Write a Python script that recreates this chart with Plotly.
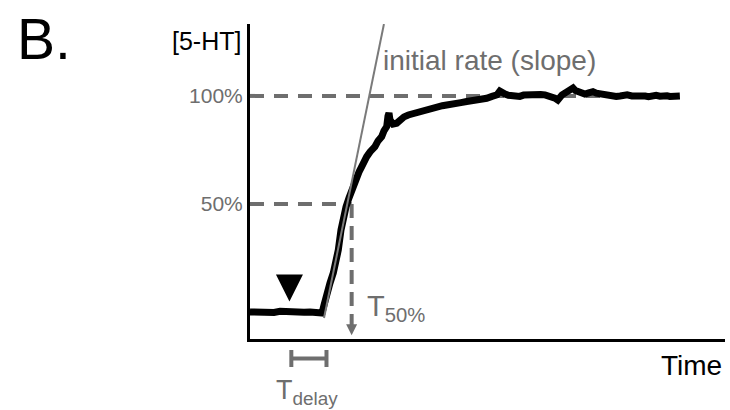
import plotly.graph_objects as go

# ---- data (time in s, signal in % of plateau) ----
time_s = [0, 1.26, 2.53, 3.79, 5.05, 6.32, 7.58, 8.84, 10.1, 11.37, 12.63, 13.9, 14.95, 15.16,
          15.58, 16.15, 16.84, 17.54, 18.1, 18.59, 19.16, 19.64, 20.21, 20.84, 21.41, 22.3, 22.95,
          23.52, 24.0, 24.57, 25.26, 26.3, 26.95, 27.73, 28.2, 28.78, 29.05, 29.26, 29.47, 30.1,
          30.88, 31.58, 32.42, 33.33, 34.1, 35.09, 36.2, 37.0, 37.9, 38.7, 39.58, 40.5, 41.41,
          42.3, 43.16, 44.4, 45.62, 46.5, 47.37, 48.6, 49.83, 50.95, 51.4, 52.0, 52.6, 53.2,
          53.7, 54.4, 55.4, 56.0, 56.8, 57.6, 58.5, 59.4, 60.4, 61.2, 62.1, 62.9, 63.6, 64.2,
          64.8, 65.3, 65.7, 66.7, 67.4, 68.0, 68.5, 69.1, 69.8, 70.5, 71.3, 72.2, 72.9, 73.7,
          74.4, 75.2, 75.8, 76.4, 77.1, 77.9, 78.6, 79.4, 80.4, 81.5, 82.3, 83.2, 83.9, 84.6,
          85.5, 86.3, 87.0, 87.8, 88.4, 89.1, 89.8, 90.5]
signal_pct = [0, -0.2, 0.3, 0, -0.2, 0.3, 0, -0.2, 0.1, -0.1, 0, -0.2, -0.4, -0.5,
              3.2, 8.8, 13.4, 18.1, 23.6, 28.7, 38.0, 44.0, 48.6, 52.8, 56.5, 62.0, 64.8,
              67.3, 69.9, 71.9, 74.1, 76.5, 79.2, 81.2, 83.8, 85.8, 90.7, 92.1, 88.9, 87.0,
              87.4, 88.9, 90.3, 91.2, 91.7, 92.7, 93.3, 93.6, 94.3, 94.2, 94.9, 95.5, 95.8,
              95.9, 96.3, 96.9, 97.4, 97.6, 98.1, 98.5, 98.9, 99.8, 100.2, 100.5, 102.3, 101.0,
              100.9, 100.3, 100.1, 99.6, 99.8, 100.4, 100.5, 100.9, 101.3, 100.7, 100.5, 100.2,
              100.0, 99.0, 98.1, 99.5, 100.5, 101.9, 102.8, 103.7, 102.5, 101.9, 101.2, 100.9,
              101.4, 102.0, 101.3, 100.9, 100.5, 100.2, 100.4, 100.1, 99.8, 100.0, 100.3, 100.5,
              100.0, 100.1, 100.4, 100.0, 99.7, 100.2, 100.3, 99.9, 100.2, 100.1, 99.8, 99.9,
              100.2, 100.0]

plateau_pct = 100
half_pct = 50
t_end = 90.5
t50 = 21.4
t50_arrow_tip = -10.8
stim_t = 8.3
stim_y = 4.8
delay_start = 8.7
delay_end = 16.1
slope_t = [15.58, 28.2]
slope_y = [-2.8, 133.3]
y_range = [-12.5, 133.3]
x_range = [0, 100]

GRAY = "#6e6e6e"
FONT = "Liberation Sans, Arial, sans-serif"

# plot-area geometry (pixels) used for placing text outside axes
L, R, T, B = 250, 5, 24, 71
W, H = 730, 410
PW, PH = W - L - R, H - T - B


def px(x):
    return (x - L) / PW


def py(y):
    return (H - B - y) / PH


fig = go.Figure()

# dashed guides
fig.add_trace(go.Scatter(x=[0, t_end], y=[plateau_pct, plateau_pct], mode="lines",
                         line=dict(color=GRAY, width=4, dash="14px,10px"), hoverinfo="skip"))
fig.add_trace(go.Scatter(x=[0, t50], y=[half_pct, half_pct], mode="lines",
                         line=dict(color=GRAY, width=4, dash="14px,10px"), hoverinfo="skip"))
fig.add_trace(go.Scatter(x=[t50, t50], y=[half_pct, -6.5], mode="lines",
                         line=dict(color=GRAY, width=4, dash="14px,8px"), hoverinfo="skip"))
fig.add_trace(go.Scatter(x=[t50, t50], y=[-6.5, t50_arrow_tip + 2], mode="lines",
                         line=dict(color=GRAY, width=2.5), hoverinfo="skip"))
fig.add_trace(go.Scatter(x=[t50], y=[t50_arrow_tip], mode="markers",
                         marker=dict(symbol="arrow-down", size=11, color=GRAY,
                                     line=dict(width=0)), hoverinfo="skip"))

# data trace
fig.add_trace(go.Scatter(x=time_s, y=signal_pct, mode="lines",
                         line=dict(color="black", width=7), hoverinfo="skip"))

# initial slope line
fig.add_trace(go.Scatter(x=slope_t, y=slope_y, mode="lines",
                         line=dict(color="#7a7a7a", width=2), hoverinfo="skip"))

# stimulus marker
fig.add_trace(go.Scatter(x=[stim_t], y=[stim_y], mode="markers",
                         marker=dict(symbol="arrow-down", size=27, color="black",
                                     line=dict(width=0)), hoverinfo="skip"))

annotations = [
    dict(text="B.", x=px(15), y=py(39), xref="paper", yref="paper", xanchor="left",
         yanchor="middle", showarrow=False, font=dict(family=FONT, size=57, color="black")),
    dict(text="[5-HT]", x=px(243), y=py(41), xref="paper", yref="paper", xanchor="right",
         yanchor="middle", showarrow=False, font=dict(family=FONT, size=25, color="black")),
    dict(text="initial rate (slope)", x=px(381), y=py(60), xref="paper", yref="paper",
         xanchor="left", yanchor="middle", showarrow=False,
         font=dict(family=FONT, size=28, color=GRAY)),
    dict(text="T<sub>50%</sub>", x=px(365), y=py(308), xref="paper", yref="paper",
         xanchor="left", yanchor="middle", showarrow=False,
         font=dict(family=FONT, size=29, color=GRAY)),
    dict(text="T<sub>delay</sub>", x=px(274), y=py(392), xref="paper", yref="paper",
         xanchor="left", yanchor="middle", showarrow=False,
         font=dict(family=FONT, size=27, color=GRAY)),
    dict(text="Time", x=px(724), y=py(365), xref="paper", yref="paper", xanchor="right",
         yanchor="middle", showarrow=False, font=dict(family=FONT, size=28, color="black")),
]

shapes = [
    dict(type="line", xref="x", yref="paper", x0=delay_start, x1=delay_end,
         y0=py(358.5), y1=py(358.5), line=dict(color=GRAY, width=4)),
    dict(type="line", xref="x", yref="paper", x0=delay_start, x1=delay_start,
         y0=py(350), y1=py(367), line=dict(color=GRAY, width=4)),
    dict(type="line", xref="x", yref="paper", x0=delay_end, x1=delay_end,
         y0=py(350), y1=py(367), line=dict(color=GRAY, width=4)),
]

fig.update_layout(
    width=W, height=H,
    margin=dict(l=L, r=R, t=T, b=B),
    paper_bgcolor="white", plot_bgcolor="white",
    showlegend=False,
    annotations=annotations,
    shapes=shapes,
    xaxis=dict(range=x_range, showline=True, linecolor="black", linewidth=3,
               showticklabels=False, ticks="", showgrid=False, zeroline=False),
    yaxis=dict(range=y_range, showline=True, linecolor="black", linewidth=3,
               tickvals=[half_pct, plateau_pct], ticktext=["50%", "100%"], ticks="",
               tickfont=dict(family=FONT, size=21, color=GRAY),
               showgrid=False, zeroline=False),
)

fig.write_html("out.html")
